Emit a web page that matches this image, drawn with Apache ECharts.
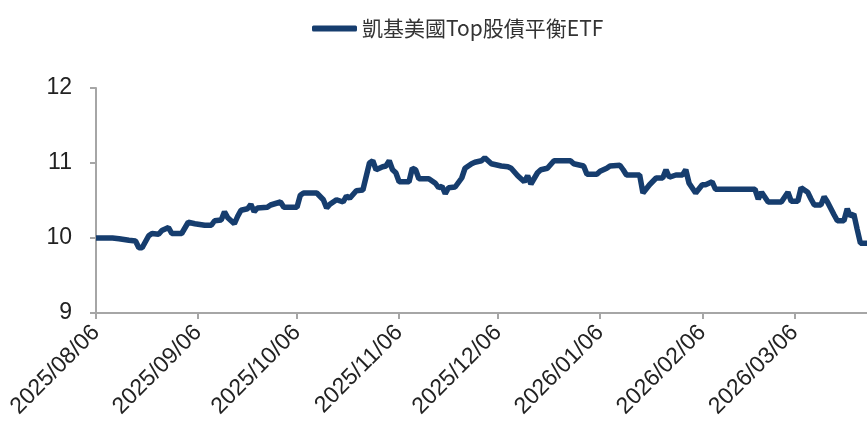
<!DOCTYPE html>
<html>
<head>
<meta charset="utf-8">
<script src="https://cdn.jsdelivr.net/npm/echarts@6/dist/echarts.min.js"></script>
<style>
  html, body { margin: 0; padding: 0; background: #fff; }
  #Line { width: 867px; height: 431px; }
</style>
</head>
<body>
<div id="Line"></div>
<script>
var seriesName = "凱基美國Top股債平衡ETF";

var dates = [
  "2025/08/06","2025/08/11","2025/08/13","2025/08/16","2025/08/18","2025/08/19","2025/08/20","2025/08/22",
  "2025/08/23","2025/08/25","2025/08/26","2025/08/28","2025/08/29","2025/09/01","2025/09/03","2025/09/05",
  "2025/09/08","2025/09/10","2025/09/11","2025/09/13","2025/09/14","2025/09/15","2025/09/17","2025/09/18",
  "2025/09/19","2025/09/21","2025/09/22","2025/09/23","2025/09/24","2025/09/27","2025/09/28","2025/10/01",
  "2025/10/02","2025/10/06","2025/10/07","2025/10/08","2025/10/12","2025/10/14","2025/10/15","2025/10/16",
  "2025/10/18","2025/10/20","2025/10/21","2025/10/22","2025/10/24","2025/10/26","2025/10/28","2025/10/29",
  "2025/10/30","2025/11/01","2025/11/02","2025/11/03","2025/11/04","2025/11/05","2025/11/06","2025/11/09",
  "2025/11/10","2025/11/11","2025/11/12","2025/11/15","2025/11/17","2025/11/18","2025/11/19","2025/11/20",
  "2025/11/21","2025/11/23","2025/11/25","2025/11/26","2025/11/28","2025/11/29","2025/12/01","2025/12/02",
  "2025/12/04","2025/12/07","2025/12/09","2025/12/10","2025/12/12","2025/12/14","2025/12/15","2025/12/16",
  "2025/12/18","2025/12/19","2025/12/21","2025/12/23","2025/12/28","2025/12/29","2026/01/01","2026/01/02",
  "2026/01/05","2026/01/06","2026/01/08","2026/01/09","2026/01/12","2026/01/13","2026/01/14","2026/01/18",
  "2026/01/19","2026/01/21","2026/01/23","2026/01/25","2026/01/26","2026/01/27","2026/01/29","2026/01/31",
  "2026/02/01","2026/02/02","2026/02/04","2026/02/06","2026/02/07","2026/02/09","2026/02/10","2026/02/22",
  "2026/02/23","2026/02/24","2026/02/26","2026/03/02","2026/03/04","2026/03/05","2026/03/07","2026/03/08",
  "2026/03/10","2026/03/11","2026/03/12","2026/03/14","2026/03/15","2026/03/16","2026/03/18","2026/03/19",
  "2026/03/21","2026/03/22","2026/03/23","2026/03/24","2026/03/25","2026/03/26","2026/03/28"
];

var values = [
  10.00,10.00,9.99,9.97,9.96,9.87,9.87,10.03,
  10.06,10.05,10.10,10.14,10.06,10.06,10.21,10.19,
  10.17,10.17,10.23,10.24,10.35,10.27,10.19,10.29,
  10.37,10.39,10.45,10.35,10.40,10.41,10.44,10.48,
  10.41,10.41,10.57,10.60,10.60,10.51,10.40,10.45,
  10.51,10.48,10.56,10.53,10.63,10.64,11.00,11.03,
  10.91,10.95,10.96,11.03,10.91,10.87,10.75,10.75,
  10.93,10.91,10.79,10.79,10.73,10.67,10.69,10.59,
  10.67,10.68,10.80,10.93,10.99,11.01,11.03,11.07,
  10.99,10.96,10.95,10.93,10.83,10.75,10.83,10.72,
  10.87,10.91,10.93,11.03,11.03,10.99,10.96,10.85,
  10.85,10.89,10.93,10.96,10.97,10.91,10.84,10.84,
  10.60,10.71,10.80,10.80,10.91,10.81,10.84,10.84,
  10.91,10.73,10.60,10.71,10.71,10.75,10.65,10.65,
  10.52,10.61,10.48,10.48,10.61,10.49,10.49,10.67,
  10.61,10.52,10.44,10.44,10.55,10.48,10.31,10.23,
  10.23,10.39,10.29,10.32,10.12,9.93,9.93
];

var tickDates = [
  "2025/08/06","2025/09/06","2025/10/06","2025/11/06",
  "2025/12/06","2026/01/06","2026/02/06","2026/03/06"
];
var axisStart = "2025/08/06";
var axisEnd = "2026/03/28";
var yTicks = [9, 10, 11, 12];

function toTime(s) {
  var p = s.split("/");
  return new Date(+p[0], +p[1] - 1, +p[2]).getTime();
}
function pad(n) { return n < 10 ? "0" + n : "" + n; }
function fmt(t) {
  var d = new Date(t);
  return d.getFullYear() + "/" + pad(d.getMonth() + 1) + "/" + pad(d.getDate());
}

var myChart = echarts.init(document.getElementById("Line"));
var points = [];
dates.map(function (d, i) {
  points.push([toTime(d), values[i]]);
});
var tickTimes = tickDates.map(toTime);

// x is a plain value axis holding timestamps, so the ticks can sit on the 6th of each month
var option = {
  animation: false,
  textStyle: { fontFamily: "Liberation Sans" },
  legend: {
    top: 13,
    left: 307,
    itemWidth: 45,
    itemHeight: 6,
    itemGap: 6,
    icon: "roundRect",
    textStyle: {
      fontFamily: "Noto Sans CJK TC",
      fontSize: 21,
      color: "#333"
    },
    data: [seriesName]
  },
  grid: {
    left: 96,
    right: 0,
    top: 88,
    bottom: 118
  },
  xAxis: {
    type: "value",
    min: toTime(axisStart),
    max: toTime(axisEnd),
    axisLine: { lineStyle: { color: "#a6a6a6", width: 2 } },
    axisTick: {
      show: true,
      length: 6,
      customValues: tickTimes,
      lineStyle: { color: "#a6a6a6", width: 2 }
    },
    axisLabel: {
      customValues: tickTimes,
      rotate: 45,
      margin: 16,
      fontSize: 23,
      color: "#222",
      fontFamily: "Liberation Sans",
      formatter: function (v) { return fmt(v); }
    },
    splitLine: { show: false }
  },
  yAxis: {
    type: "value",
    min: yTicks[0],
    max: yTicks[yTicks.length - 1],
    interval: 1,
    axisLine: { show: true, lineStyle: { color: "#a6a6a6", width: 2 } },
    axisTick: { show: true, length: 6, lineStyle: { color: "#a6a6a6", width: 2 } },
    axisLabel: {
      margin: 24,
      fontSize: 23,
      color: "#222",
      fontFamily: "Liberation Sans"
    },
    splitLine: { show: false }
  },
  series: [
    {
      name: seriesName,
      type: "line",
      data: points,
      symbol: "none",
      lineStyle: { width: 5.5, color: "#163d6e" },
      itemStyle: { color: "#163d6e" }
    }
  ]
};

option && myChart.setOption(option);
</script>
</body>
</html>
